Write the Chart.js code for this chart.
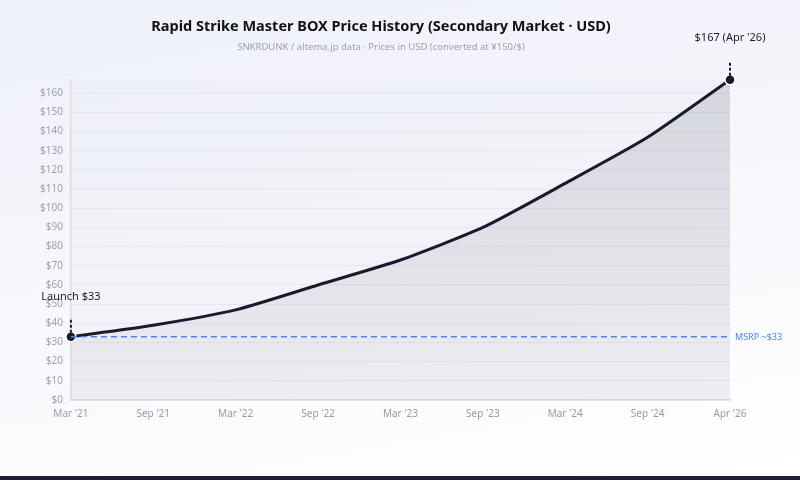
<!DOCTYPE html>
<html>
<head>
<meta charset="utf-8">
<script src="https://cdn.jsdelivr.net/npm/chart.js@4/dist/chart.umd.min.js"></script>
<style>
  html, body { margin: 0; padding: 0; }
  body {
    width: 800px; height: 480px; overflow: hidden;
    background: linear-gradient(170deg, #eef0fa 0%, #f6f7fc 45%, #ffffff 100%);
    font-family: "Noto Sans", sans-serif;
  }
  #wrap { position: relative; width: 800px; height: 476px; }
  #footer { position: absolute; left: 0; top: 476px; width: 800px; height: 4px; background: #1b2036; }
</style>
</head>
<body>
<div id="wrap"><canvas id="price-chart"></canvas></div>
<div id="footer"></div>
<script>
// Price points (USD)
const periods = ["Mar '21", "Sep '21", "Mar '22", "Sep '22", "Mar '23", "Sep '23", "Mar '24", "Sep '24", "Apr '26"];
const prices = [33, 39, 47, 60, 73, 90, 113, 137, 167];
const msrp = 33;
const launchLabel = 'Launch $33';
const latestLabel = "$167 (Apr '26)";
const msrpLabel = 'MSRP ~$33';

const ink = '#1a1a2e';

// Plot area tint, MSRP line and the callouts at both ends
const annotations = {
  id: 'annotations',
  beforeDraw(chart) {
    const { ctx, chartArea: a } = chart;
    ctx.save();
    ctx.fillStyle = 'rgba(236, 237, 243, 0.45)';
    ctx.fillRect(a.left, a.top, a.right - a.left, a.bottom - a.top);
    ctx.restore();
  },
  afterDatasetsDraw(chart) {
    const { ctx, chartArea: a, scales: { x, y } } = chart;
    ctx.save();

    // MSRP dashed line
    const my = y.getPixelForValue(msrp);
    ctx.strokeStyle = '#4f83ea';
    ctx.lineWidth = 1.4;
    ctx.setLineDash([6, 4]);
    ctx.beginPath();
    ctx.moveTo(a.left, my);
    ctx.lineTo(a.right, my);
    ctx.stroke();
    ctx.setLineDash([]);
    ctx.fillStyle = '#4f83ea';
    ctx.font = '9px "Noto Sans", sans-serif';
    ctx.textAlign = 'left';
    ctx.textBaseline = 'middle';
    ctx.fillText(msrpLabel, a.right + 5, my + 1);

    // callouts
    const first = 0, last = prices.length - 1;
    const callouts = [
      { i: first, text: launchLabel, lift: 18, gap: 40 },
      { i: last, text: latestLabel, lift: 18, gap: 42 }
    ];
    callouts.forEach(c => {
      const px = x.getPixelForValue(c.i);
      const py = y.getPixelForValue(prices[c.i]);
      ctx.strokeStyle = ink;
      ctx.lineWidth = 2;
      ctx.setLineDash([3, 2]);
      ctx.beginPath();
      ctx.moveTo(px, py - 4);
      ctx.lineTo(px, py - c.lift);
      ctx.stroke();
      ctx.setLineDash([]);
      ctx.fillStyle = ink;
      ctx.font = '11px "Noto Sans", sans-serif';
      ctx.textAlign = 'center';
      ctx.textBaseline = 'middle';
      ctx.fillText(c.text, px, py - c.gap);
    });

    ctx.restore();
  }
};

const ctx = document.getElementById('price-chart').getContext('2d');
new Chart(ctx, {
  type: 'line',
  data: {
    labels: periods,
    datasets: [{
      label: 'Price',
      data: prices,
      borderColor: ink,
      borderWidth: 3,
      tension: 0.2,
      clip: false,
      fill: 'origin',
      backgroundColor: (context) => {
        const area = context.chart.chartArea;
        if (!area) return 'rgba(26, 26, 46, 0.08)';
        const g = context.chart.ctx.createLinearGradient(0, area.top, 0, area.bottom);
        g.addColorStop(0, 'rgba(26, 26, 46, 0.13)');
        g.addColorStop(1, 'rgba(26, 26, 46, 0.03)');
        return g;
      },
      pointRadius: (c) => (c.dataIndex === 0 || c.dataIndex === prices.length - 1) ? 5 : 0,
      pointBackgroundColor: ink,
      pointBorderColor: '#ffffff',
      pointBorderWidth: 1.5
    }]
  },
  options: {
    responsive: true,
    maintainAspectRatio: false,
    animation: false,
    layout: { padding: { top: 14, right: 70, bottom: 54, left: 32 } },
    plugins: {
      legend: { display: false },
      tooltip: { enabled: false },
      title: {
        display: true,
        text: 'Rapid Strike Master BOX Price History (Secondary Market · USD)',
        color: '#111111',
        font: { family: '"Noto Sans", sans-serif', size: 14.5, weight: 'bold' },
        padding: { top: 4, bottom: 4 }
      },
      subtitle: {
        display: true,
        text: 'SNKRDUNK / altema.jp data · Prices in USD (converted at ¥150/$)',
        color: '#a0a0a8',
        font: { family: '"Noto Sans", sans-serif', size: 9.5 },
        padding: { top: 2, bottom: 27 }
      }
    },
    scales: {
      x: {
        grid: { display: false, drawOnChartArea: false, drawTicks: true, tickLength: 6, color: '#d8d8de' },
        border: { color: '#dcdce2', width: 1.5 },
        ticks: { color: '#9a9aa2', font: { family: '"Noto Sans", sans-serif', size: 10 }, maxRotation: 0, autoSkip: false, padding: 2 }
      },
      y: {
        min: 0,
        max: 167,
        afterBuildTicks(scale) {
          scale.ticks = scale.ticks.filter(t => t.value % 10 === 0);
        },
        grid: { color: '#e6e6ec', drawTicks: false },
        border: { color: '#dcdce2', width: 1.5 },
        ticks: {
          stepSize: 10,
          color: '#a0a0a8',
          font: { family: '"Noto Sans", sans-serif', size: 10 },
          padding: 8,
          callback: (v) => '$' + v
        }
      }
    }
  },
  plugins: [annotations]
});
</script>
</body>
</html>
